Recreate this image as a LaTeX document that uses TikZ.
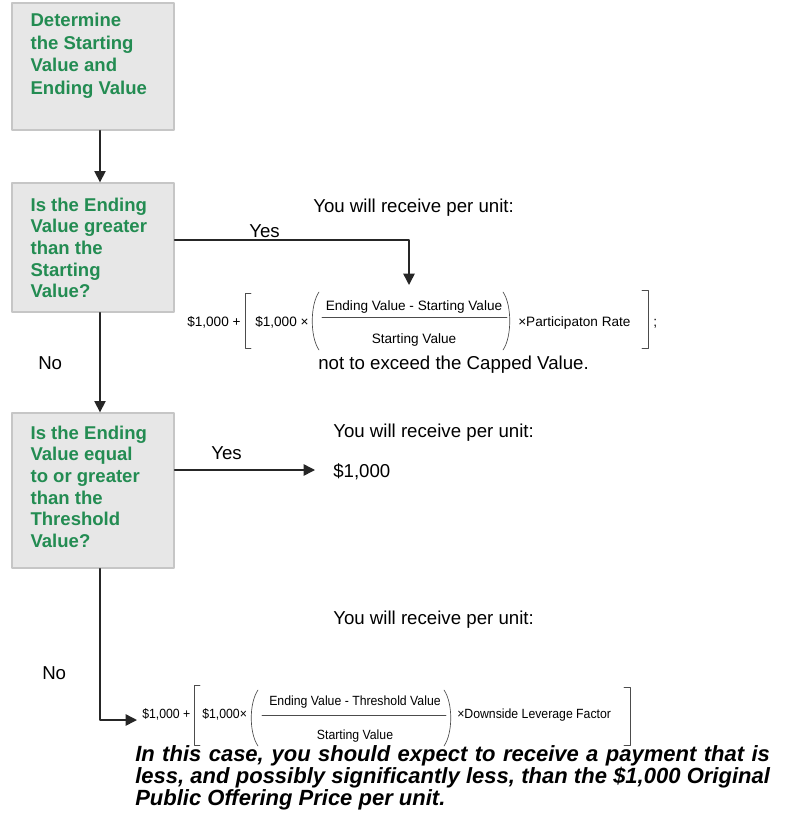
\documentclass[tikz,border=0pt]{standalone}
\usepackage{fontspec}
\setmainfont{Liberation Sans}
\newfontfamily\narrowsans[FakeStretch=0.92]{Liberation Sans}
\usetikzlibrary{arrows.meta,positioning}
\definecolor{boxfill}{RGB}{231,231,231}
\definecolor{boxline}{RGB}{198,198,198}
\definecolor{qgreen}{RGB}{35,140,82}

\begin{document}
\begin{tikzpicture}[x=0.75pt, y=-0.75pt, line join = round, line cap = round,
    qbox/.style={draw=boxline, fill=boxfill, line width=1pt, inner sep=0pt, minimum width=121.5pt},
    qtext/.style={inner sep=0pt, align=left, text=qgreen, font=\fontsize{13.9}{16.2}\selectfont\bfseries},
    flow/.style={line width=1.1pt, draw=black!85, -{Triangle[length=8.5pt,width=8.5pt]}},
    plain/.style={anchor=base west, inner sep=0pt, font=\fontsize{14}{16}\selectfont},
    fml/.style={inner sep=0pt, font=\fontsize{10.2}{12}\selectfont},
    fmlsmall/.style={inner sep=0pt, font=\fontsize{10}{12}\narrowsans},
    brk/.style={line width=0.5pt, draw=black!70}]
\useasboundingbox (0,0) rectangle (788,813);

\node[qbox, minimum height=95.25pt]  (q1) at (93,66.5) {};
\node[qbox, minimum height=96.75pt]  (q2) at (93,247.5) {};
\node[qbox, minimum height=116.25pt] (q3) at (93,490.5) {};

\node[qtext, font=\fontsize{13.9}{17}\selectfont\bfseries,
      below right=7.8pt and 14.25pt of q1.north west] (t1)
    {Determine\\the Starting\\Value and\\Ending Value};
\node[qtext, below right=11.5pt and 14.25pt of q2.north west] (t2)
    {Is the Ending\\Value greater\\than the\\Starting\\Value?};
\node[qtext, below right=10pt and 14.25pt of q3.north west] (t3)
    {Is the Ending\\Value equal\\to or greater\\than the\\Threshold\\Value?};

\coordinate (v)  at (100,0);
\coordinate (c1) at (409,240);
\coordinate (r1) at (409,285);
\coordinate (r2) at (315,470);
\coordinate (c2) at (100,720);
\coordinate (r3) at (137,720);

\draw[flow] (q1.south -| v) -- (q2.north -| v);
\draw[flow] (q2.east |- c1) -- (c1) -- (r1);
\draw[flow] (q2.south -| v) -- (q3.north -| v);
\draw[flow] (q3.east |- r2) -- (r2);
\draw[flow] (q3.south -| v) -- (c2) -- (r3);

\node[plain] (yes1) at (249,237) {Yes};
\node[plain] (no1)  at (38,369)  {No};
\node[plain] (yes2) at (211,459) {Yes};
\node[plain] (no2)  at (42,679)  {No};

\node[plain] (get1) at (313,212) {You will receive per unit:};
\node[plain] (cap1) at (318,369) {not to exceed the Capped Value.};
\node[plain] (get2) at (333,437) {You will receive per unit:};
\node[plain] (pay2) at (333,477) {\$1,000};
\node[plain] (get3) at (333,624) {You will receive per unit:};

\node[fml, anchor=base west] (f1a) at (187,326) {\$1,000 +};
\node[fml, anchor=base west] (f1b) at (255,326) {\$1,000 ×};
\node[fml, anchor=base]      (f1n) at (414,310) {Ending Value - Starting Value};
\node[fml, anchor=base]      (f1d) at (414,343) {Starting Value};
\node[fml, anchor=base west] (f1c) at (518,326) {×Participaton Rate};
\node[fml, anchor=base west] (f1s) at (653,326) {;};
\draw[brk] (322,317) -- (507,317);
\draw[brk] (251,293) -- (245,293) -- (245,348) -- (251,348);
\draw[brk] (642,290) -- (648,290) -- (648,348) -- (642,348);
\draw[brk] (319,292) .. controls (310,305) and (310,337) .. (319,350);
\draw[brk] (503,292) .. controls (512,305) and (512,337) .. (503,350);

\node[fmlsmall, anchor=base west] (f2a) at (142,718) {\$1,000 +};
\node[fmlsmall, anchor=base west] (f2b) at (202,718) {\$1,000×};
\node[fmlsmall, anchor=base]      (f2n) at (355,705) {Ending Value - Threshold Value};
\node[fmlsmall, anchor=base]      (f2d) at (355,739) {Starting Value};
\node[fmlsmall, anchor=base west] (f2c) at (457,718) {×Downside Leverage Factor};
\draw[brk] (262,715) -- (446,715);
\draw[brk] (200,685) -- (194,685) -- (194,745) -- (200,745);
\draw[brk] (624,687) -- (630,687) -- (630,745) -- (624,745);
\draw[brk] (258,690) .. controls (249,703) and (249,733) .. (258,746);
\draw[brk] (444,690) .. controls (453,703) and (453,733) .. (444,746);

\node[anchor=north west, inner sep=0pt, text width=476pt, align=justify,
      font=\fontsize{16.5}{16.5}\selectfont\bfseries\itshape] (note) at (135,745.5)
    {In this case, you should expect to receive a payment that is\linebreak
     less, and possibly significantly less, than the \$1,000 Original\linebreak
     Public Offering Price per unit.};
\end{tikzpicture}
\end{document}
